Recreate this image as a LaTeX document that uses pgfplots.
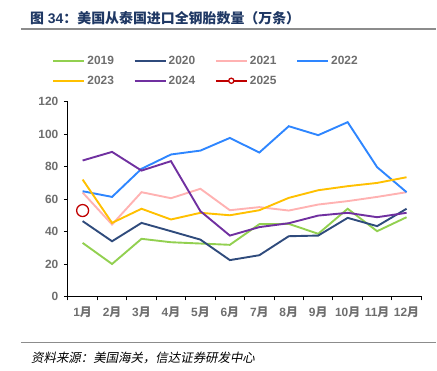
\documentclass[border=0pt]{standalone}
\usepackage{pgfplots}
\pgfplotsset{compat=1.18}
\usepackage{fontspec}
\setmainfont{Liberation Sans}
\newfontfamily\cjk{Noto Sans CJK SC}
\newfontfamily\cjkit[FakeSlant=0.2]{Noto Sans CJK SC}
\definecolor{c19}{RGB}{146,208,80}
\definecolor{c20}{RGB}{47,75,124}
\definecolor{c21}{RGB}{255,178,178}
\definecolor{c22}{RGB}{46,134,255}
\definecolor{c23}{RGB}{255,192,0}
\definecolor{c24}{RGB}{112,48,160}
\definecolor{c25}{RGB}{192,0,0}
\definecolor{tickgray}{RGB}{110,110,110}
\definecolor{titlenavy}{RGB}{31,56,100}
\definecolor{rulegray}{RGB}{140,140,140}
\newcommand{\yue}{{\cjk\bfseries 月}}
\begin{document}
\begin{tikzpicture}[x=1bp,y=1bp]
\path (0,0) rectangle (437,371);
\node[anchor=west, inner sep=0, text=titlenavy, font=\fontsize{14}{14}\selectfont\bfseries] at (30,353) {{\cjk 图} 34{\cjk ：美国从泰国进口全钢胎数量（万条）}};
\draw[rulegray, line width=1.5bp] (21,342) -- (437,342);
\draw[rulegray, line width=1.2bp] (21,28) -- (437,28);
\node[anchor=west, inner sep=0, font=\fontsize{12.5}{12.5}\selectfont] at (31,12) {\cjkit 资料来源：美国海关，信达证券研发中心};
\begin{axis}[
  at={(68bp,74bp)}, anchor=south west,
  width=354bp, height=195.3bp, scale only axis,
  xmin=0.5, xmax=12.5, ymin=0, ymax=120,
  axis x line*=bottom, axis y line*=left,
  axis line style={black, line width=1bp, -},
  xtick={1,...,12},
  xticklabels={1\yue,2\yue,3\yue,4\yue,5\yue,6\yue,7\yue,8\yue,9\yue,10\yue,11\yue,12\yue},
  minor xtick={0.5,1.5,...,12.5},
  major x tick style={draw=none},
  minor tick length=4bp,
  every minor tick/.style={black, line width=1bp},
  ytick={0,20,...,120},
  major tick length=4bp,
  every tick/.style={black, line width=1bp},
  tick align=outside,
  ticklabel style={font=\fontsize{12}{12}\selectfont\bfseries, text=tickgray},
  /pgf/number format/assume math mode=true,
  xticklabel style={yshift=-3bp},
  yticklabel style={xshift=-2bp},
  legend columns=4,
  legend style={at={(-19bp,226bp)}, anchor=west, draw=none, fill=none,
    font=\fontsize{12}{12}\selectfont\bfseries, text=tickgray,
    nodes={text width=44bp, align=left, inner xsep=2bp},
    row sep=6bp},
  legend image code/.code={\draw[mark repeat=2,mark phase=2,#1,line width=2.4bp] plot coordinates {(0bp,0bp) (15.5bp,0bp) (31bp,0bp)};},
  every axis plot/.append style={line width=1.9bp},
  legend cell align=left,
]
\addplot[c25, forget plot, mark=*, mark size=6bp, mark options={line width=1.3bp, fill=white, draw=c25}] coordinates {(1,52.9)};
\addplot[c19, no marks] coordinates {(1,33) (2,20) (3,35.5) (4,33.4) (5,32.6) (6,31.8) (7,44.5) (8,44.7) (9,38.6) (10,54) (11,40.2) (12,48.8)};
\addlegendentry{2019}
\addplot[c20, no marks] coordinates {(1,46.4) (2,34) (3,45.3) (4,40.2) (5,35) (6,22.4) (7,25.4) (8,37.1) (9,37.5) (10,48.4) (11,43.3) (12,54)};
\addlegendentry{2020}
\addplot[c21, no marks] coordinates {(1,64) (2,44.3) (3,64.2) (4,60.5) (5,66.3) (6,53.1) (7,55) (8,52.9) (9,56.6) (10,58.7) (11,61.3) (12,64.2)};
\addlegendentry{2021}
\addplot[c22, no marks] coordinates {(1,64.8) (2,61.3) (3,78.6) (4,87.4) (5,89.8) (6,97.6) (7,88.6) (8,104.8) (9,99.3) (10,107.3) (11,79.6) (12,64.2)};
\addlegendentry{2022}
\addplot[c23, no marks] coordinates {(1,72) (2,45.3) (3,54) (4,47.4) (5,51.5) (6,50) (7,53.1) (8,60.7) (9,65.4) (10,67.9) (11,69.9) (12,73.4)};
\addlegendentry{2023}
\addplot[c24, no marks] coordinates {(1,83.7) (2,89) (3,77.5) (4,83.3) (5,52.5) (6,37.5) (7,42.7) (8,45.1) (9,49.8) (10,51.5) (11,48.8) (12,51.5)};
\addlegendentry{2024}
\addlegendimage{c25, mark=*, mark size=2.6bp, mark options={line width=1.3bp, fill=white, draw=c25}}
\addlegendentry{2025}
\end{axis}
\end{tikzpicture}
\end{document}
